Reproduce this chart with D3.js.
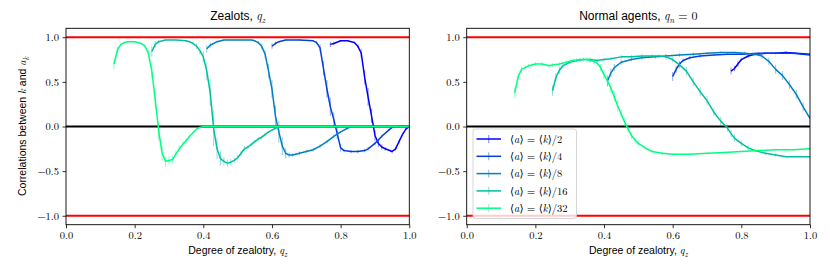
<!DOCTYPE html>
<html>
<head>
<meta charset="utf-8">
<script src="https://cdn.jsdelivr.net/npm/d3@7"></script>
<style>
body { margin: 0; background: #fff; }
</style>
</head>
<body>
<svg class="chart"></svg>
<script>
// values: [q, correlation, error]
var xTicks = [0, 0.2, 0.4, 0.6, 0.8, 1.0];
var yTicks = [-1, -0.5, 0, 0.5, 1];
var ratios = ["2", "4", "8", "16", "32"];

var zealots2 = [[0.77,0.92,0.03],[0.78,0.93,0.02],[0.80,0.96,0.01],[0.82,0.96,0.01],[0.84,0.94,0.01],[0.85,0.90,0.02],[0.86,0.82,0.05],[0.87,0.55,0.08],[0.88,0.33,0.1],[0.89,0.12,0.08],[0.90,-0.10,0.06],[0.91,-0.19,0.04],[0.92,-0.23,0.03],[0.93,-0.25,0.02],[0.95,-0.28,0.02],[0.96,-0.25,0.02],[0.97,-0.17,0.02],[0.98,-0.09,0.02],[0.99,-0.03,0.01],[1.0,0,0]];
var zealots4 = [[0.60,0.90,0.03],[0.61,0.93,0.02],[0.62,0.95,0.01],[0.64,0.97,0.01],[0.68,0.97,0.01],[0.72,0.96,0.01],[0.73,0.94,0.02],[0.74,0.88,0.04],[0.75,0.65,0.08],[0.76,0.42,0.1],[0.77,0.22,0.1],[0.78,0.08,0.08],[0.79,-0.08,0.06],[0.80,-0.24,0.04],[0.81,-0.27,0.02],[0.83,-0.28,0.02],[0.85,-0.28,0.02],[0.87,-0.27,0.02],[0.88,-0.25,0.02],[0.90,-0.19,0.02],[0.92,-0.11,0.02],[0.94,-0.04,0.01],[0.95,-0.01,0.01],[0.96,0,0],[1.0,0,0]];
var zealots8 = [[0.41,0.87,0.04],[0.42,0.91,0.03],[0.44,0.95,0.01],[0.46,0.97,0.01],[0.50,0.97,0.01],[0.54,0.97,0.01],[0.55,0.96,0.01],[0.56,0.94,0.02],[0.57,0.90,0.03],[0.58,0.81,0.05],[0.59,0.62,0.08],[0.60,0.42,0.1],[0.61,0.12,0.12],[0.62,-0.06,0.12],[0.63,-0.22,0.1],[0.64,-0.30,0.06],[0.65,-0.32,0.03],[0.66,-0.32,0.02],[0.68,-0.30,0.02],[0.70,-0.28,0.02],[0.72,-0.26,0.02],[0.74,-0.22,0.02],[0.76,-0.17,0.02],[0.78,-0.11,0.02],[0.80,-0.06,0.01],[0.82,-0.02,0.01],[0.83,0,0],[1.0,0,0]];
var zealots16 = [[0.25,0.84,0.06],[0.26,0.92,0.04],[0.27,0.95,0.02],[0.29,0.97,0.01],[0.32,0.97,0.01],[0.35,0.96,0.01],[0.36,0.95,0.01],[0.37,0.93,0.02],[0.38,0.90,0.03],[0.39,0.85,0.04],[0.40,0.78,0.06],[0.41,0.62,0.1],[0.42,0.38,0.15],[0.43,-0.02,0.2],[0.44,-0.25,0.12],[0.45,-0.36,0.08],[0.46,-0.39,0.05],[0.47,-0.41,0.04],[0.48,-0.40,0.04],[0.49,-0.38,0.03],[0.50,-0.35,0.03],[0.51,-0.30,0.03],[0.52,-0.25,0.03],[0.53,-0.23,0.02],[0.54,-0.20,0.02],[0.55,-0.17,0.02],[0.56,-0.14,0.02],[0.57,-0.12,0.02],[0.58,-0.09,0.02],[0.59,-0.06,0.01],[0.60,-0.04,0.01],[0.61,-0.02,0.01],[0.62,0,0],[1.0,0,0]];
var zealots32 = [[0.14,0.70,0.06],[0.15,0.86,0.04],[0.16,0.92,0.02],[0.17,0.94,0.01],[0.18,0.95,0.01],[0.20,0.95,0.01],[0.22,0.93,0.01],[0.23,0.90,0.02],[0.24,0.82,0.04],[0.25,0.62,0.08],[0.26,0.30,0.1],[0.27,-0.05,0.1],[0.28,-0.30,0.08],[0.29,-0.39,0.06],[0.30,-0.38,0.05],[0.31,-0.37,0.05],[0.32,-0.31,0.04],[0.33,-0.25,0.04],[0.34,-0.20,0.03],[0.35,-0.16,0.03],[0.36,-0.11,0.02],[0.37,-0.07,0.02],[0.38,-0.03,0.01],[0.39,-0.01,0.01],[0.40,0,0],[1.0,0,0]];

var normal2 = [[0.77,0.62,0.04],[0.78,0.65,0.03],[0.79,0.70,0.03],[0.80,0.75,0.02],[0.82,0.79,0.02],[0.84,0.81,0.01],[0.87,0.82,0.01],[0.90,0.82,0.01],[0.93,0.83,0.01],[0.96,0.82,0.01],[1.0,0.81,0.01]];
var normal4 = [[0.60,0.56,0.05],[0.61,0.64,0.04],[0.62,0.70,0.03],[0.63,0.74,0.02],[0.65,0.77,0.02],[0.68,0.79,0.02],[0.72,0.80,0.01],[0.76,0.81,0.01],[0.80,0.81,0.01],[0.85,0.82,0.01],[0.90,0.82,0.01],[0.95,0.82,0.01],[1.0,0.80,0.01]];
var normal8 = [[0.41,0.51,0.06],[0.42,0.60,0.05],[0.43,0.66,0.04],[0.45,0.72,0.03],[0.48,0.75,0.02],[0.51,0.77,0.02],[0.55,0.78,0.02],[0.58,0.79,0.02],[0.62,0.80,0.02],[0.66,0.81,0.02],[0.70,0.82,0.01],[0.74,0.83,0.01],[0.78,0.83,0.01],[0.81,0.82,0.02],[0.84,0.81,0.02],[0.86,0.79,0.03],[0.88,0.73,0.04],[0.90,0.64,0.05],[0.92,0.57,0.05],[0.94,0.47,0.05],[0.96,0.36,0.05],[0.98,0.22,0.05],[1.0,0.09,0.05]];
var normal16 = [[0.25,0.40,0.06],[0.26,0.55,0.05],[0.27,0.63,0.04],[0.28,0.68,0.03],[0.30,0.72,0.02],[0.32,0.74,0.02],[0.34,0.75,0.02],[0.36,0.75,0.02],[0.38,0.74,0.02],[0.40,0.75,0.02],[0.42,0.76,0.02],[0.45,0.78,0.02],[0.48,0.78,0.02],[0.51,0.79,0.02],[0.54,0.79,0.02],[0.56,0.79,0.02],[0.58,0.78,0.03],[0.60,0.75,0.03],[0.62,0.69,0.04],[0.64,0.62,0.05],[0.66,0.50,0.05],[0.68,0.39,0.05],[0.70,0.29,0.05],[0.72,0.16,0.05],[0.74,0.06,0.05],[0.76,-0.02,0.04],[0.77,-0.08,0.04],[0.78,-0.13,0.04],[0.80,-0.19,0.03],[0.82,-0.24,0.03],[0.84,-0.27,0.02],[0.87,-0.30,0.02],[0.90,-0.32,0.02],[0.93,-0.34,0.01],[0.96,-0.34,0.01],[1.0,-0.34,0.01]];
var normal32 = [[0.14,0.38,0.06],[0.15,0.56,0.04],[0.16,0.64,0.03],[0.17,0.66,0.02],[0.18,0.68,0.02],[0.19,0.69,0.02],[0.20,0.70,0.02],[0.22,0.70,0.02],[0.24,0.68,0.02],[0.25,0.69,0.02],[0.27,0.70,0.02],[0.29,0.72,0.02],[0.31,0.74,0.02],[0.33,0.75,0.02],[0.35,0.75,0.02],[0.36,0.74,0.02],[0.37,0.73,0.03],[0.38,0.71,0.03],[0.39,0.66,0.04],[0.40,0.58,0.05],[0.41,0.51,0.06],[0.42,0.43,0.06],[0.43,0.33,0.06],[0.44,0.23,0.06],[0.45,0.14,0.05],[0.46,0.05,0.05],[0.47,-0.03,0.04],[0.48,-0.10,0.04],[0.49,-0.15,0.03],[0.50,-0.19,0.03],[0.52,-0.24,0.02],[0.54,-0.28,0.02],[0.57,-0.30,0.02],[0.60,-0.31,0.01],[0.65,-0.31,0.01],[0.70,-0.30,0.01],[0.75,-0.29,0.01],[0.80,-0.28,0.01],[0.85,-0.27,0.01],[0.90,-0.26,0.01],[0.95,-0.26,0.01],[1.0,-0.25,0.01]];

function show() {

    'use strict';

    var width = 830, height = 274;
    var plotTop = 28.3, plotH = 196.4, plotW = 343.3;
    var serif = "'Latin Modern Roman', 'Liberation Serif', 'DejaVu Serif', serif";
    var sans = "'Liberation Sans', Arial, sans-serif";

    var svg = d3.select(".chart")
        .attr("width", width)
        .attr("height", height);

    var color = d3.scaleOrdinal()
        .domain(ratios)
        .range(ratios.map(function(d, i) { return d3.interpolateRgb("#0000ff", "#00ff80")(i / (ratios.length - 1)); }));

    var panels = [
        {left: 66, series: [zealots2, zealots4, zealots8, zealots16, zealots32],
         title: [{t: "Zealots, "}, {t: "q", m: 1}, {t: "z", m: 1, sub: 1}], legend: false, ylabel: true},
        {left: 466.7, series: [normal2, normal4, normal8, normal16, normal32],
         title: [{t: "Normal agents, "}, {t: "q", m: 1}, {t: "n", m: 1, sub: 1}, {t: " = 0", m: 2}], legend: true, ylabel: false}
    ];

    // writes mixed sans / math text into a text node
    function rich(text, parts, size) {
        var shift = 0;
        parts.forEach(function(p) {
            var ts = text.append("tspan").text(p.t);
            if (p.m) ts.attr("font-family", serif);
            if (p.m === 1) ts.attr("font-style", "italic");
            var dy = 0;
            if (p.sub && !shift) { dy = size * 0.28; shift = 1; ts.attr("font-size", size * 0.7); }
            else if (!p.sub && shift) { dy = -size * 0.28; shift = 0; }
            if (dy) ts.attr("dy", dy);
        });
    }

    panels.forEach(function(panel, pi) {
        var x = d3.scaleLinear().domain([0, 1]).range([panel.left, panel.left + plotW]);
        var y = d3.scaleLinear().domain([-1.1, 1.1]).range([plotTop + plotH, plotTop]);

        var clipId = "clip" + pi;
        svg.append("clipPath").attr("id", clipId)
            .append("rect")
            .attr("x", panel.left).attr("y", plotTop)
            .attr("width", plotW).attr("height", plotH);

        var g = svg.append("g");
        var plot = g.append("g").attr("clip-path", "url(#" + clipId + ")");

        // reference lines
        [1, -1].forEach(function(v) {
            plot.append("line")
                .attr("x1", x(0)).attr("x2", x(1))
                .attr("y1", y(v)).attr("y2", y(v))
                .attr("stroke", "#ff0000").attr("stroke-width", 2);
        });
        plot.append("line")
            .attr("x1", x(0)).attr("x2", x(1))
            .attr("y1", y(0)).attr("y2", y(0))
            .attr("stroke", "#000").attr("stroke-width", 2);

        var line = d3.line()
            .x(function(d) { return x(d[0]); })
            .y(function(d) { return y(d[1]); });

        panel.series.forEach(function(data, si) {
            var c = color(ratios[si]);
            var s = plot.append("g");
            s.selectAll("line.err")
                .data(data.filter(function(d) { return d[2] > 0; }))
                .enter().append("line")
                .attr("class", "err")
                .attr("x1", function(d) { return x(d[0]); })
                .attr("x2", function(d) { return x(d[0]); })
                .attr("y1", function(d) { return y(d[1] - d[2]); })
                .attr("y2", function(d) { return y(d[1] + d[2]); })
                .attr("stroke", c).attr("stroke-opacity", 0.45).attr("stroke-width", 1);
            s.append("path")
                .datum(data)
                .attr("d", line)
                .attr("fill", "none")
                .attr("stroke", c)
                .attr("stroke-width", 1.5)
                .attr("stroke-linejoin", "round");
        });

        // axes
        var xAxis = g.append("g")
            .attr("transform", "translate(0," + (plotTop + plotH) + ")")
            .call(d3.axisBottom(x).tickValues(xTicks).tickSize(3.5).tickPadding(3.5).tickFormat(d3.format(".1f")));
        var yAxis = g.append("g")
            .attr("transform", "translate(" + panel.left + ",0)")
            .call(d3.axisLeft(y).tickValues(yTicks).tickSize(3.5).tickPadding(3.5).tickFormat(d3.format(".1f")));
        [xAxis, yAxis].forEach(function(a) {
            a.select(".domain").remove();
            a.selectAll(".tick line").attr("stroke", "#000").attr("stroke-width", 0.8);
            a.selectAll(".tick text")
                .attr("font-family", serif).attr("font-size", 10.5).attr("fill", "#000");
        });

        g.append("rect")
            .attr("x", panel.left).attr("y", plotTop)
            .attr("width", plotW).attr("height", plotH)
            .attr("fill", "none").attr("stroke", "#000").attr("stroke-width", 0.9);

        // title and labels
        rich(g.append("text")
            .attr("x", panel.left + plotW / 2).attr("y", 20)
            .attr("text-anchor", "middle")
            .attr("font-family", sans).attr("font-size", 12), panel.title, 12);

        rich(g.append("text")
            .attr("x", panel.left + plotW / 2).attr("y", 254)
            .attr("text-anchor", "middle")
            .attr("font-family", sans).attr("font-size", 10.5),
            [{t: "Degree of zealotry, "}, {t: "q", m: 1}, {t: "z", m: 1, sub: 1}], 10.5);

        if (panel.ylabel) {
            rich(g.append("text")
                .attr("transform", "translate(26," + y(0) + ") rotate(-90)")
                .attr("text-anchor", "middle")
                .attr("font-family", sans).attr("font-size", 10.5),
                [{t: "Correlations between "}, {t: "k", m: 1}, {t: " and "}, {t: "a", m: 1}, {t: "k", m: 1, sub: 1}], 10.5);
        }

        if (panel.legend) {
            var lg = g.append("g").attr("transform", "translate(473,129)");
            lg.append("rect")
                .attr("width", 103.5).attr("height", 89.5).attr("rx", 2.5)
                .attr("fill", "#fff").attr("fill-opacity", 0.8)
                .attr("stroke", "#cccccc").attr("stroke-width", 0.8);
            var items = lg.selectAll("g.item")
                .data(ratios)
                .enter().append("g")
                .attr("class", "item")
                .attr("transform", function(d, i) { return "translate(0," + (10 + i * 17.3) + ")"; });
            items.append("line")
                .attr("x1", 3.5).attr("x2", 28).attr("y1", 0).attr("y2", 0)
                .attr("stroke", function(d) { return color(d); }).attr("stroke-width", 1.5);
            items.append("line")
                .attr("x1", 15.75).attr("x2", 15.75).attr("y1", -4).attr("y2", 4)
                .attr("stroke", function(d) { return color(d); })
                .attr("stroke-opacity", 0.5).attr("stroke-width", 1);
            items.append("text")
                .attr("x", 37).attr("y", 3.6)
                .attr("font-family", serif).attr("font-size", 10.5)
                .each(function(d) {
                    rich(d3.select(this), [{t: "\u27e8", m: 2}, {t: "a", m: 1}, {t: "\u27e9 = \u27e8", m: 2}, {t: "k", m: 1}, {t: "\u27e9/" + d, m: 2}], 10.5);
                });
        }
    });
}

show();
</script>
</body>
</html>
